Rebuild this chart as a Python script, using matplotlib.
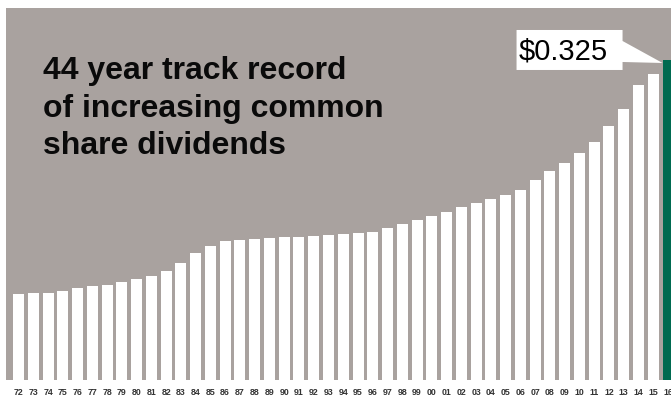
import matplotlib
matplotlib.use('Agg')
import matplotlib.pyplot as plt
from matplotlib.patches import Polygon
from matplotlib.transforms import IdentityTransform

# dividend per share, 1972 - 2016
years = ['72', '73', '74', '75', '76', '77', '78', '79', '80', '81', '82', '83', '84', '85', '86',
         '87', '88', '89', '90', '91', '92', '93', '94', '95', '96', '97', '98', '99', '00', '01',
         '02', '03', '04', '05', '06', '07', '08', '09', '10', '11', '12', '13', '14', '15', '16']
dividends = [0.0873, 0.0884, 0.0884, 0.0904, 0.0934, 0.0955, 0.0965, 0.0995, 0.1026, 0.1056,
             0.1107, 0.1188, 0.1290, 0.1361, 0.1412, 0.1422, 0.1432, 0.1442, 0.1452, 0.1452,
             0.1463, 0.1473, 0.1483, 0.1493, 0.1503, 0.1544, 0.1584, 0.1625, 0.1666, 0.1706,
             0.1757, 0.1798, 0.1838, 0.1879, 0.1930, 0.2031, 0.2123, 0.2204, 0.2305, 0.2417,
             0.2580, 0.2752, 0.2996, 0.3108, 0.325]
latest_label = '$0.325'
title = '44 year track record\nof increasing common\nshare dividends'

gray = '#a9a29f'
green = '#006a50'

plt.rcParams['font.family'] = ['Liberation Sans', 'DejaVu Sans']

fig = plt.figure(figsize=(6.71, 3.99), dpi=100)
W, H = 671, 399
ax = fig.add_axes([6 / W, 19 / H, 665 / W, 372 / H])
ax.set_facecolor(gray)

n = len(dividends)
colors = ['white'] * (n - 1) + [green]
ax.bar(range(n), dividends, width=0.745, color=colors, edgecolor='none')

ax.set_xlim(-0.847, 44.2)
ax.set_ylim(0, 0.3778)
ax.set_yticks([])
ax.set_xticks(range(n))
ax.set_xticklabels(years, fontsize=6.3, fontweight='bold', color='#333333')
ax.tick_params(axis='x', length=0, pad=5.5)
for s in ax.spines.values():
    s.set_visible(False)

ax.text(37 / 665, 1 - 48 / 372, title, transform=ax.transAxes, fontsize=23,
        fontweight='bold', color='#0a0a0a', va='top', ha='left', linespacing=1.33)

# callout box pointing at the latest bar
fig.canvas.draw()
tx, ty = ax.transData.transform((n - 1 - 0.745 / 2, dividends[-1]))
ty -= 3
shape = [(-146, -33), (-40, -33), (-40, -22), (0, 0), (-40, -1), (-40, 7), (-146, 7)]
pts = [(tx + dx, ty - dy) for dx, dy in shape]
fig.patches.append(Polygon(pts, closed=True, facecolor='white', edgecolor='none',
                           transform=IdentityTransform(), figure=fig))
fig.text((tx - 144) / W, (ty + 3) / H, latest_label, fontsize=21, color='black',
         ha='left', va='baseline')

fig.savefig('out.png', dpi=100, facecolor='white')
